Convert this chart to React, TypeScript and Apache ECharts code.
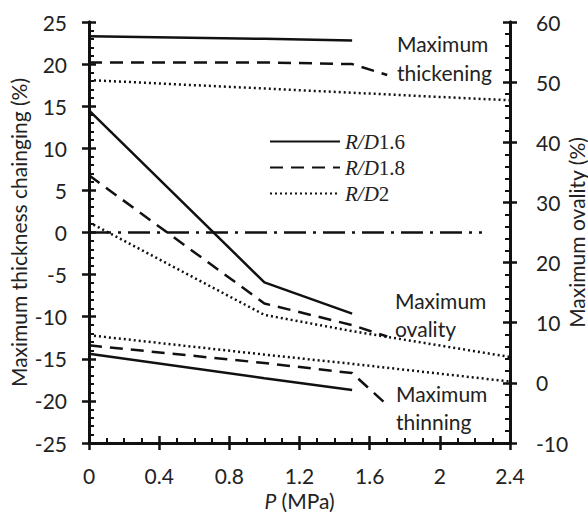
import React, { useEffect, useRef } from "react";
import * as echarts from "echarts";

// x: pressure P (MPa); y: thickness change (%) or ovality (%)
const legendNames = ["R/D1.6", "R/D1.8", "R/D2"];

// Maximum thickening (left axis, %)
const thickening16 = [[0, 23.3], [1.0, 23.0], [1.5, 22.8]];
const thickening18 = [[0, 20.2], [1.0, 20.2], [1.5, 20.0], [1.7, 18.7]];
const thickening20 = [[0, 18.1], [1.0, 17.1], [1.5, 16.6], [2.4, 15.7]];

// Maximum ovality (right axis, %)
const ovality16 = [[0, 45.3], [1.0, 16.7], [1.5, 11.5]];
const ovality18 = [[0, 34.5], [1.0, 13.2], [1.5, 9.6], [1.7, 7.7]];
const ovality20 = [[0, 26.7], [1.0, 11.3], [1.5, 8.6], [2.4, 4.3]];

// Maximum thinning (left axis, %)
const thinning16 = [[0, -14.4], [1.0, -17.3], [1.5, -18.7]];
const thinning18 = [[0, -13.4], [1.0, -15.5], [1.5, -16.7], [1.7, -20.5]];
const thinning20 = [[0, -12.2], [1.0, -14.5], [1.5, -15.6], [2.4, -17.7]];

// zero reference line (left axis)
const zeroLine = [[0, 0], [2.24, 0]];

const FONT = "Lato";
const INK = "#111";

const styles: Record<string, any> = {
  "R/D1.6": { type: "solid", width: 2.5 },
  "R/D1.8": { type: [13, 8], width: 2.5 },
  "R/D2": { type: [2, 3], width: 2.5 },
};

function mk(name: string, data: number[][], yAxisIndex: number) {
  return {
    type: "line",
    name,
    data,
    yAxisIndex,
    showSymbol: false,
    symbol: "none",
    lineStyle: { color: INK, ...styles[name] },
    itemStyle: { color: INK },
    silent: true,
  };
}

const labelStyle = () => ({ fontFamily: FONT, fontSize: 21, color: "#222" });
const axisLine = () => ({ show: true, onZero: false, lineStyle: { color: INK, width: 3 } });
const tick = (inside: boolean) => ({ show: true, inside, length: 7, lineStyle: { color: INK, width: 2.5 } });
const minor = (n: number) => ({ show: true, splitNumber: n, length: 5, lineStyle: { color: INK, width: 2 } });

export default function App() {
  const ref = useRef<HTMLDivElement>(null);
  useEffect(() => {
    if (!ref.current) return;
    const chart = echarts.init(ref.current, undefined, { renderer: "svg" });
    const xBase = () => ({ type: "value", min: 0, max: 2.4, interval: 0.4, position: "bottom", splitLine: { show: false }, axisLine: axisLine() });
    const yLeft = () => ({ type: "value", min: -25, max: 25, interval: 5, position: "left", splitLine: { show: false }, axisLine: axisLine() });
    const yRight = () => ({ type: "value", min: -10, max: 60, interval: 10, position: "right", splitLine: { show: false }, axisLine: axisLine() });

    chart.setOption({
      animation: false,
      grid: { left: 89, right: 78, top: 22, bottom: 69, containLabel: false, outerBoundsMode: "none" },
      xAxis: [
        {
          ...xBase(),
          axisTick: tick(false),
          axisLabel: { ...labelStyle(), margin: 22, formatter: (v: number) => String(Number(v.toFixed(1))) },
          name: "{i|P} (MPa)",
          nameLocation: "middle",
          nameGap: 47,
          nameMoveOverlap: false,
          nameTextStyle: { ...labelStyle(), rich: { i: { fontFamily: FONT, fontSize: 21, fontStyle: "italic", color: "#222" } } },
        },
        { ...xBase(), axisTick: tick(true), minorTick: minor(4), axisLabel: { show: false } },
      ],
      yAxis: [
        {
          ...yLeft(),
          axisTick: tick(false),
          axisLabel: { ...labelStyle(), margin: 22 },
          name: "Maximum thickness chainging (%)",
          nameLocation: "middle",
          nameRotate: 90,
          nameGap: 60,
          nameMoveOverlap: false,
          nameTextStyle: labelStyle(),
        },
        {
          ...yRight(),
          axisTick: tick(false),
          axisLabel: { ...labelStyle(), margin: 26 },
          name: "Maximum ovality (%)",
          nameLocation: "middle",
          nameRotate: 90,
          nameGap: 56,
          nameMoveOverlap: false,
          nameTextStyle: labelStyle(),
        },
        { ...yLeft(), axisTick: tick(true), minorTick: minor(5), axisLabel: { show: false } },
        { ...yRight(), axisTick: tick(true), minorTick: minor(5), axisLabel: { show: false } },
      ],
      legend: {
        data: legendNames,
        orient: "vertical",
        left: 264,
        top: 126,
        itemWidth: 70,
        itemHeight: 14,
        itemGap: 5,
        selectedMode: false,
        itemStyle: { opacity: 0, borderWidth: 0 },
        formatter: (n: string) => `{i|R/D}{n|${n.slice(3)}}`,
        textStyle: {
          fontFamily: "Liberation Serif",
          fontSize: 21,
          lineHeight: 21,
          color: "#222",
          rich: {
            i: { fontFamily: "Liberation Serif", fontSize: 21, fontStyle: "italic", color: "#222" },
            n: { fontFamily: "Liberation Serif", fontSize: 21, color: "#222" },
          },
        },
      },
      graphic: [
        { type: "text", z: 100, left: 397, top: 29, style: { text: "Maximum\nthickening", fontFamily: FONT, fontSize: 21, lineHeight: 29, fill: "#222" } },
        { type: "text", z: 100, left: 395, top: 286, style: { text: "Maximum\novality", fontFamily: FONT, fontSize: 21, lineHeight: 28, fill: "#222" } },
        { type: "text", z: 100, left: 396, top: 379, style: { text: "Maximum\nthinning", fontFamily: FONT, fontSize: 21, lineHeight: 28, fill: "#222" } },
      ],
      series: [
        mk("R/D1.6", thickening16, 0),
        mk("R/D1.8", thickening18, 0),
        mk("R/D2", thickening20, 0),
        mk("R/D1.6", ovality16, 1),
        mk("R/D1.8", ovality18, 1),
        mk("R/D2", ovality20, 1),
        mk("R/D1.6", thinning16, 0),
        mk("R/D1.8", thinning18, 0),
        mk("R/D2", thinning20, 0),
        {
          type: "line",
          name: "zero",
          data: zeroLine,
          yAxisIndex: 0,
          showSymbol: false,
          symbol: "none",
          silent: true,
          lineStyle: { color: INK, width: 2.5, type: [22, 7, 3, 7] },
        },
      ],
    });
    return () => chart.dispose();
  }, []);
  return <div ref={ref} style={{ width: 588, height: 512, position: "absolute", left: 0, top: 0, background: "#fff" }} />;
}
